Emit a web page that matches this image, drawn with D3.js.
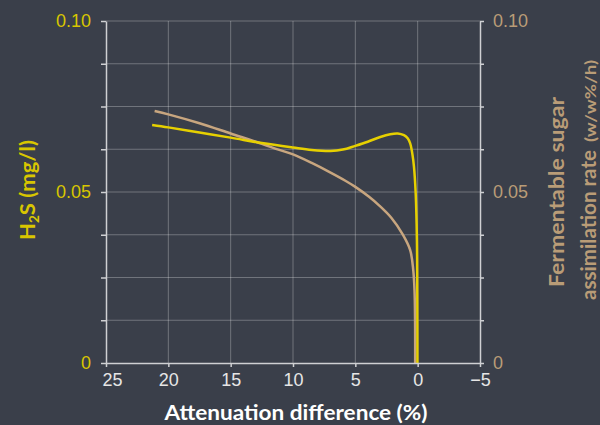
<!DOCTYPE html>
<html>
<head>
<meta charset="utf-8">
<script src="https://cdn.jsdelivr.net/npm/d3@7"></script>
<style>
body { margin: 0; background: #3a3f4a; }
svg { display: block; font-family: Lato, "Open Sans", sans-serif; }
</style>
</head>
<body>
<svg id="chart" width="600" height="425"></svg>
<script>
// H2S curve (left axis)
var h2sAtten = [21.3, 20, 17.5, 15, 12.5, 10, 8.5, 7, 6, 5, 4, 3, 2.2, 1.6, 1.1, 0.8, 0.6, 0.42, 0.3, 0.16, 0.06, 0.03, 0.02];
var h2sValues = [0.0696, 0.0689, 0.0674, 0.0659, 0.0643, 0.0630, 0.0623, 0.0620, 0.0624, 0.0635, 0.0647, 0.0661, 0.0669, 0.0671, 0.0666, 0.0657, 0.0642, 0.0610, 0.0575, 0.0497, 0.0360, 0.0200, 0];

// sugar assimilation rate curve (right axis)
var sugarAtten = [21.1, 20, 17.5, 15, 12.5, 11.1, 10, 8.5, 7.1, 5.8, 5, 3.9, 3.1, 2.1, 1.2, 0.6, 0.35, 0.25, 0.21, 0.2, 0.2];
var sugarValues = [0.0737, 0.0727, 0.0701, 0.0671, 0.0641, 0.0623, 0.0610, 0.0585, 0.0559, 0.0533, 0.0515, 0.0486, 0.0461, 0.0424, 0.0376, 0.0330, 0.0270, 0.0210, 0.0130, 0.0050, 0];

var xTicks = [25, 20, 15, 10, 5, 0, -5];
var yTicks = [0, 0.0125, 0.025, 0.0375, 0.05, 0.0625, 0.075, 0.0875, 0.1];
var yLabels = { 0: "0", 0.05: "0.05", 0.1: "0.10" };

var yellow = "#e6d000", tan = "#c8a67f";
var yellowText = "#d8c600", tanText = "#b99c77";

var svg = d3.select("#chart");
var margin = { top: 21, right: 120, bottom: 62, left: 106 };
var w = 600 - margin.left - margin.right,
	h = 425 - margin.top - margin.bottom;

var g = svg.append("g").attr("transform", "translate(" + margin.left + "," + margin.top + ")");

var x = d3.scaleLinear().domain([25, -5]).range([0, w]);
var y = d3.scaleLinear().domain([0, 0.1]).range([h, 0]);
var y2 = d3.scaleLinear().domain([0, 0.1]).range([h, 0]);

// grid
g.append("g").selectAll("line").data(xTicks.filter(d => d !== 25 && d !== -5)).enter()
	.append("line")
	.attr("x1", d => x(d)).attr("x2", d => x(d))
	.attr("y1", 0).attr("y2", h)
	.attr("stroke", "rgba(255,255,255,0.28)").attr("stroke-width", 1);
g.append("g").selectAll("line").data(yTicks.filter(d => d > 0)).enter()
	.append("line")
	.attr("x1", 0).attr("x2", w)
	.attr("y1", d => y(d)).attr("y2", d => y(d))
	.attr("stroke", "rgba(255,255,255,0.28)").attr("stroke-width", 1);

// curves
var h2sLine = d3.line()
	.x((d, i) => x(h2sAtten[i]))
	.y(d => y(d))
	.curve(d3.curveCatmullRom.alpha(0.5));
var sugarLine = d3.line()
	.x((d, i) => x(sugarAtten[i]))
	.y(d => y2(d))
	.curve(d3.curveCatmullRom.alpha(0.5));

g.append("path").datum(sugarValues)
	.attr("d", sugarLine)
	.attr("fill", "none").attr("stroke", tan).attr("stroke-width", 2.5);
g.append("path").datum(h2sValues)
	.attr("d", h2sLine)
	.attr("fill", "none").attr("stroke", yellow).attr("stroke-width", 2.5);

// axes
function styleAxis(sel, color) {
	sel.select(".domain").attr("stroke", "#cfd0d3").attr("stroke-width", 1.5);
	sel.selectAll(".tick line").attr("stroke", "#cfd0d3").attr("stroke-width", 1.5);
	sel.selectAll(".tick text").attr("fill", color).attr("font-size", 18);
}

var xAxis = g.append("g").attr("transform", "translate(0," + h + ")")
	.call(d3.axisBottom(x).tickValues(xTicks).tickSize(4).tickSizeOuter(0).tickPadding(6));
styleAxis(xAxis, "#e6e6e6");
xAxis.selectAll(".tick text").filter(d => d === 25).attr("dx", 6);

var yAxis = g.append("g")
	.call(d3.axisLeft(y).tickValues(yTicks).tickSize(5).tickSizeOuter(0).tickPadding(10)
		.tickFormat(d => yLabels[d] || ""));
styleAxis(yAxis, yellowText);

var yAxis2 = g.append("g").attr("transform", "translate(" + w + ",0)")
	.call(d3.axisRight(y2).tickValues(yTicks).tickSize(4).tickSizeOuter(0).tickPadding(9)
		.tickFormat(d => yLabels[d] || ""));
styleAxis(yAxis2, tanText);

// titles (Calibri-like widths via textLength)
svg.append("text")
	.attr("x", 296).attr("y", 420)
	.attr("text-anchor", "middle")
	.attr("font-size", 21).attr("font-weight", "bold").attr("fill", "#ffffff")
	.attr("textLength", 263).attr("lengthAdjust", "spacingAndGlyphs")
	.text("Attenuation difference (%)");

var leftTitle = svg.append("text")
	.attr("transform", "translate(35,190) rotate(-90)")
	.attr("text-anchor", "middle")
	.attr("font-size", 21).attr("font-weight", "bold").attr("fill", yellowText)
	.attr("textLength", 100).attr("lengthAdjust", "spacingAndGlyphs");
leftTitle.append("tspan").text("H");
leftTitle.append("tspan").attr("font-size", 13).attr("dy", 4).text("2");
leftTitle.append("tspan").attr("dy", -4).text("S (mg/l)");

svg.append("text")
	.attr("transform", "translate(564,192) rotate(-90)")
	.attr("text-anchor", "middle")
	.attr("font-size", 20).attr("font-weight", "bold").attr("fill", tanText)
	.attr("textLength", 190).attr("lengthAdjust", "spacingAndGlyphs")
	.text("Fermentable sugar");

var rightTitle = svg.append("g").attr("transform", "translate(596,0) rotate(-90)");
rightTitle.append("text")
	.attr("x", -300)
	.attr("font-size", 21).attr("font-weight", "bold").attr("fill", tanText)
	.attr("textLength", 150).attr("lengthAdjust", "spacingAndGlyphs")
	.text("assimilation rate");
rightTitle.append("text")
	.attr("x", -142)
	.attr("font-size", 16).attr("font-weight", "bold").attr("fill", tanText)
	.attr("textLength", 82).attr("lengthAdjust", "spacingAndGlyphs")
	.text("(w/w%/h)");
</script>
</body>
</html>
